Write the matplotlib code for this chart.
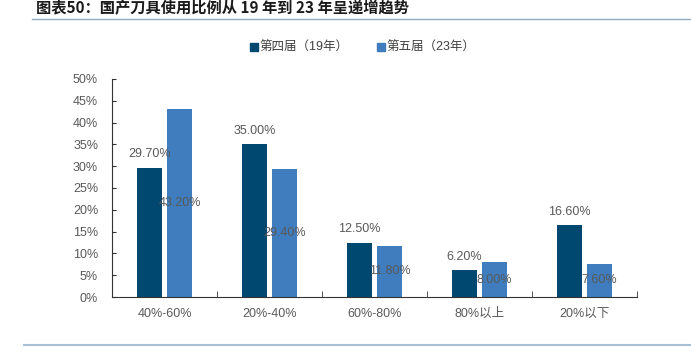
import matplotlib
matplotlib.use("Agg")
import matplotlib.pyplot as plt
from matplotlib.lines import Line2D
import numpy as np

plt.rcParams['font.family'] = ['Liberation Sans', 'Noto Sans CJK SC', 'DejaVu Sans']

categories = ["40%-60%", "20%-40%", "60%-80%", "80%以上", "20%以下"]
series_names = ["第四届（19年）", "第五届（23年）"]
s19 = [29.7, 35.0, 12.5, 6.2, 16.6]
s23 = [43.2, 29.4, 11.8, 8.0, 7.6]
yticks = [0, 5, 10, 15, 20, 25, 30, 35, 40, 45, 50]
title = "图表50：国产刀具使用比例从 19 年到 23 年呈递增趋势"

c_dark = "#00486F"
c_light = "#3F7DBE"
txt = "#595959"

fig = plt.figure(figsize=(6.91, 3.53), dpi=100)
ax = fig.add_axes([112/691, 1-297/353, 525/691, 218/353])

x = np.arange(len(categories))
w = 0.24
off = 0.143
ax.bar(x - off, s19, w, color=c_dark, label=series_names[0], zorder=2)
ax.bar(x + off, s23, w, color=c_light, label=series_names[1], zorder=2)

for xi, v in zip(x, s19):
    ax.text(xi - off, v + 3.0, f"{v:.2f}%", ha="center", va="center", fontsize=9, color=txt)
for xi, v in zip(x, s23):
    ax.text(xi + off, v / 2, f"{v:.2f}%", ha="center", va="center", fontsize=9, color=txt)

ax.set_xlim(-0.5, len(categories) - 0.5)
ax.set_ylim(0, 50)
ax.set_yticks(yticks)
ax.set_yticklabels([f"{t}%" for t in yticks])
ax.set_xticks(x)
ax.set_xticklabels(categories)
ax.set_xticks(np.arange(len(categories) + 1) - 0.5, minor=True)
ax.tick_params(axis="x", which="major", length=0, pad=8, labelsize=9, labelcolor=txt)
ax.tick_params(axis="x", which="minor", direction="in", length=4, color="#333333")
ax.tick_params(axis="y", direction="in", length=3, labelsize=9, labelcolor=txt, color="#333333", pad=10)
for s in ["top", "right"]:
    ax.spines[s].set_visible(False)
ax.spines["left"].set_color("#333333")
ax.spines["bottom"].set_color("#333333")

handles = [Line2D([], [], marker="s", linestyle="none", markersize=6, color=c_dark),
           Line2D([], [], marker="s", linestyle="none", markersize=6, color=c_light)]
fig.legend(handles, series_names, loc="center", bbox_to_anchor=(362/691, 1-48/353),
           ncol=2, frameon=False, fontsize=9, handletextpad=0.05, columnspacing=2.2,
           handlelength=0.8, labelcolor="#404040")

fig.text(36/691, 1-8/353, title, fontsize=11, fontweight="bold", style="italic",
         color="#1a1a1a", ha="left", va="center",
         family=["Noto Sans CJK SC", "DejaVu Sans"])

fig.add_artist(Line2D([32/691, 1], [1-19/353, 1-19/353], color="#8FA9C0", lw=1))
fig.add_artist(Line2D([24/691, 1], [1-345/353, 1-345/353], color="#A8BFD6", lw=1.5))

fig.savefig("out.png", dpi=100)
